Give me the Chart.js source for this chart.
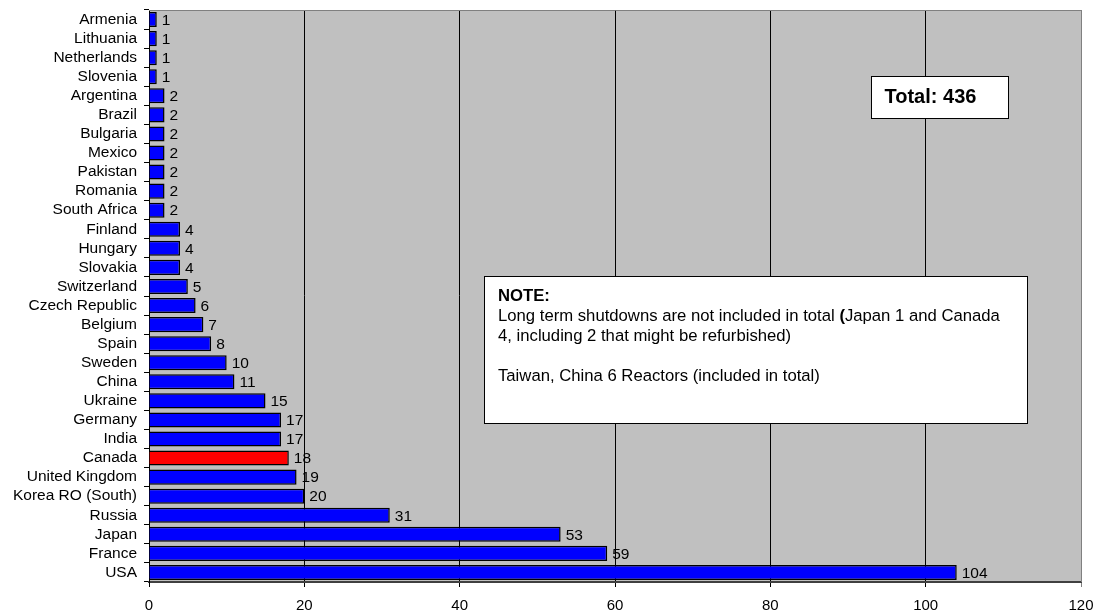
<!DOCTYPE html>
<html>
<head>
<meta charset="utf-8">
<title>Nuclear power reactors in operation</title>
<script src="https://cdn.jsdelivr.net/npm/chart.js@4/dist/chart.umd.min.js"></script>
<style>
  html, body { margin: 0; padding: 0; background: #ffffff; overflow: hidden; }
  #wrap { position: relative; width: 1096px; height: 614px; }
</style>
</head>
<body>
<div id="wrap"><canvas id="chart" width="1096" height="614"></canvas></div>
<script>
// Reactors in operation by country (top of list = top of chart)
const categories = [
  'Armenia', 'Lithuania', 'Netherlands', 'Slovenia', 'Argentina', 'Brazil',
  'Bulgaria', 'Mexico', 'Pakistan', 'Romania', 'South Africa', 'Finland',
  'Hungary', 'Slovakia', 'Switzerland', 'Czech Republic', 'Belgium', 'Spain',
  'Sweden', 'China', 'Ukraine', 'Germany', 'India', 'Canada',
  'United Kingdom', 'Korea RO (South)', 'Russia', 'Japan', 'France', 'USA'
];
const reactors = [
  1, 1, 1, 1, 2, 2,
  2, 2, 2, 2, 2, 4,
  4, 4, 5, 6, 7, 8,
  10, 11, 15, 17, 17, 18,
  19, 20, 31, 53, 59, 104
];
const xTicks = [0, 20, 40, 60, 80, 100, 120];
const highlighted = ['Canada'];

const totalText = 'Total: 436';
const noteTitle = 'NOTE:';
const noteLine1 = ['Long term shutdowns are not included in total ', '(', 'Japan 1 and Canada'];
const noteLine2 = '4, including 2 that might be refurbished)';
const noteLine3 = 'Taiwan, China 6 Reactors (included in total)';

const FONT = '"Liberation Sans", Arial, sans-serif';
const barColors = categories.map(c => highlighted.includes(c) ? '#ff0000' : '#0000ff');

// Grey plot area behind the grid
const plotBackground = {
  id: 'plotBackground',
  beforeDraw(chart) {
    const { ctx, chartArea: a } = chart;
    ctx.save();
    ctx.fillStyle = '#c0c0c0';
    ctx.fillRect(a.left, a.top, a.right - a.left, a.bottom - a.top);
    ctx.restore();
  }
};

// Value labels to the right of each bar, and the plot frame
const barValues = {
  id: 'barValues',
  afterDatasetsDraw(chart) {
    const { ctx, chartArea: a } = chart;
    const meta = chart.getDatasetMeta(0);
    const data = chart.data.datasets[0].data;
    ctx.save();
    ctx.font = '15.5px ' + FONT;
    ctx.fillStyle = '#000';
    ctx.textAlign = 'left';
    ctx.textBaseline = 'middle';
    meta.data.forEach((bar, i) => {
      ctx.fillText(String(data[i]), bar.x + 5, bar.y + 1);
    });
    // top and right frame
    ctx.strokeStyle = '#808080';
    ctx.lineWidth = 1;
    ctx.beginPath();
    ctx.moveTo(a.left, a.top + 0.5);
    ctx.lineTo(a.right + 0.5, a.top + 0.5);
    ctx.lineTo(a.right + 0.5, a.bottom);
    ctx.stroke();
    ctx.restore();
  }
};

// Text boxes placed in data coordinates along x, offsets from the plot top
const textBoxes = {
  id: 'textBoxes',
  afterDraw(chart) {
    const { ctx } = chart;
    const xs = chart.scales.x;
    const a = chart.chartArea;
    const px = v => xs.getPixelForValue(v);
    ctx.save();

    // Total box
    let l = Math.round(px(92.97)) + 0.5, r = Math.round(px(110.6)) + 0.5;
    let t = a.top + 66.5, b = a.top + 108.5;
    ctx.fillStyle = '#ffffff';
    ctx.fillRect(l, t, r - l, b - t);
    ctx.strokeStyle = '#000';
    ctx.lineWidth = 1;
    ctx.strokeRect(l, t, r - l, b - t);
    ctx.fillStyle = '#000';
    ctx.font = 'bold 20px ' + FONT;
    ctx.textBaseline = 'alphabetic';
    ctx.textAlign = 'left';
    ctx.fillText(totalText, l + 13, a.top + 93);

    // Note box
    l = Math.round(px(43.15)) + 0.5; r = Math.round(px(113.1)) + 0.5;
    t = a.top + 266.5; b = a.top + 413.5;
    ctx.fillStyle = '#ffffff';
    ctx.fillRect(l, t, r - l, b - t);
    ctx.strokeRect(l, t, r - l, b - t);
    ctx.fillStyle = '#000';
    const tx = l + 13.5;
    ctx.font = 'bold 16.7px ' + FONT;
    ctx.fillText(noteTitle, tx, a.top + 291);
    let x = tx;
    noteLine1.forEach((part, i) => {
      ctx.font = (i === 1 ? 'bold ' : '') + '16.7px ' + FONT;
      ctx.fillText(part, x, a.top + 311);
      x += ctx.measureText(part).width;
    });
    ctx.font = '16.7px ' + FONT;
    ctx.fillText(noteLine2, tx, a.top + 331);
    ctx.fillText(noteLine3, tx, a.top + 371);
    ctx.restore();
  }
};

new Chart(document.getElementById('chart'), {
  type: 'bar',
  data: {
    labels: categories,
    datasets: [{
      data: reactors,
      backgroundColor: barColors,
      borderColor: '#000000',
      borderWidth: 1.5,
      borderSkipped: 'start',
      categoryPercentage: 1.0,
      barPercentage: 0.79
    }]
  },
  options: {
    indexAxis: 'y',
    responsive: false,
    animation: false,
    devicePixelRatio: 1,
    layout: { padding: { top: 10, right: 15, left: 0, bottom: 0 } },
    plugins: {
      legend: { display: false },
      tooltip: { enabled: false },
      title: { display: false }
    },
    scales: {
      x: {
        type: 'linear',
        min: 0,
        max: 120,
        afterBuildTicks(scale) { scale.ticks = xTicks.map(v => ({ value: v })); },
        afterFit(scale) {
          scale.height = 32;
          scale.paddingLeft = 0;
          scale.paddingRight = 0;
        },
        grid: {
          color: ctx => (ctx.tick && ctx.tick.value === 120) ? '#808080' : '#000000',
          lineWidth: 1,
          drawTicks: true,
          tickLength: 5
        },
        border: { display: true, color: '#404040', width: 2 },
        ticks: {
          color: '#000',
          font: { family: FONT, size: 15 },
          padding: 10,
          maxRotation: 0
        }
      },
      y: {
        type: 'category',
        offset: true,
        afterFit(scale) {
          scale.width = 149;
          scale.paddingTop = 0;
          scale.paddingBottom = 0;
        },
        grid: {
          offset: true,
          drawOnChartArea: false,
          drawTicks: true,
          tickLength: 5,
          color: '#000000'
        },
        border: { display: true, color: '#000000', width: 1 },
        ticks: {
          color: '#000',
          autoSkip: false,
          font: { family: FONT, size: 15.5 },
          padding: 7
        }
      }
    }
  },
  plugins: [plotBackground, barValues, textBoxes]
});
</script>
</body>
</html>
